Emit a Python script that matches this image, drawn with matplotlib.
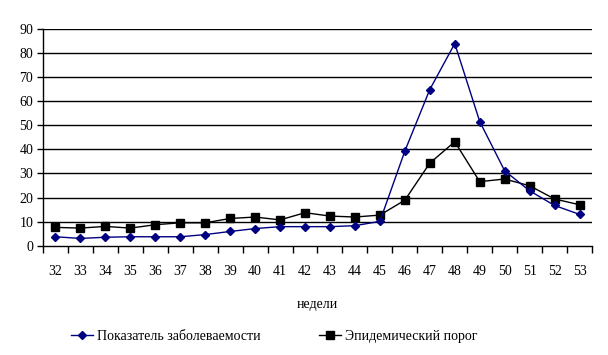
import matplotlib
matplotlib.use("Agg")
from matplotlib import pyplot as plt
import numpy as np

plt.rcParams['font.family'] = ['Liberation Serif', 'DejaVu Serif']

# weeks and series values
weeks = [32, 33, 34, 35, 36, 37, 38, 39, 40, 41, 42,
         43, 44, 45, 46, 47, 48, 49, 50, 51, 52, 53]
incidence = [3.7, 3.0, 3.5, 3.7, 3.7, 3.7, 4.6, 5.9, 7.1, 7.9, 7.9,
             7.9, 8.3, 10.1, 39.3, 64.9, 84.0, 51.6, 31.1, 22.8, 16.7, 13.0]
threshold = [7.6, 7.3, 8.0, 7.3, 8.7, 9.5, 9.5, 11.3, 11.9, 10.7, 13.7,
             12.3, 11.9, 12.7, 18.9, 34.3, 43.2, 26.6, 27.7, 24.9, 19.4, 17.0]
yticks = [0, 10, 20, 30, 40, 50, 60, 70, 80, 90]

fig = plt.figure(figsize=(6.08, 3.55), dpi=100)
ax = fig.add_axes([0.0707, 0.308, 0.903, 0.610])

x = np.arange(len(weeks))

# horizontal grid lines
for v in yticks[1:]:
    ax.axhline(v, color='black', linewidth=1.0, zorder=1)

ax.plot(x, incidence, '-D', color='#000080', markersize=4.5, linewidth=1.0,
        label='Показатель заболеваемости', zorder=3)
ax.plot(x, threshold, '-s', color='black', markersize=5.5, linewidth=1.0,
        label='Эпидемический порог', zorder=2)

ax.set_xlim(-0.5, len(weeks) - 0.5)
ax.set_ylim(0, 90)
ax.set_yticks(yticks)
ax.set_xticks(x)
ax.set_xticklabels([str(w) for w in weeks])
ax.set_xticks(np.arange(-0.5, len(weeks), 1.0), minor=True)
ax.tick_params(axis='x', which='major', length=0, pad=14, labelsize=10)
ax.tick_params(axis='x', which='minor', length=5, width=1, direction='out')
ax.tick_params(axis='y', length=4, width=1, direction='out', labelsize=10, pad=3)

for s in ['top', 'right']:
    ax.spines[s].set_visible(False)
for s in ['left', 'bottom']:
    ax.spines[s].set_linewidth(1.0)

ax.set_xlabel('недели', fontsize=10, labelpad=14)

fig.legend(loc='center', bbox_to_anchor=(0.451, 0.053), ncol=2, frameon=False,
           fontsize=10, columnspacing=4.2, handlelength=1.6, handletextpad=0.3)

fig.savefig('out.png', dpi=100)
